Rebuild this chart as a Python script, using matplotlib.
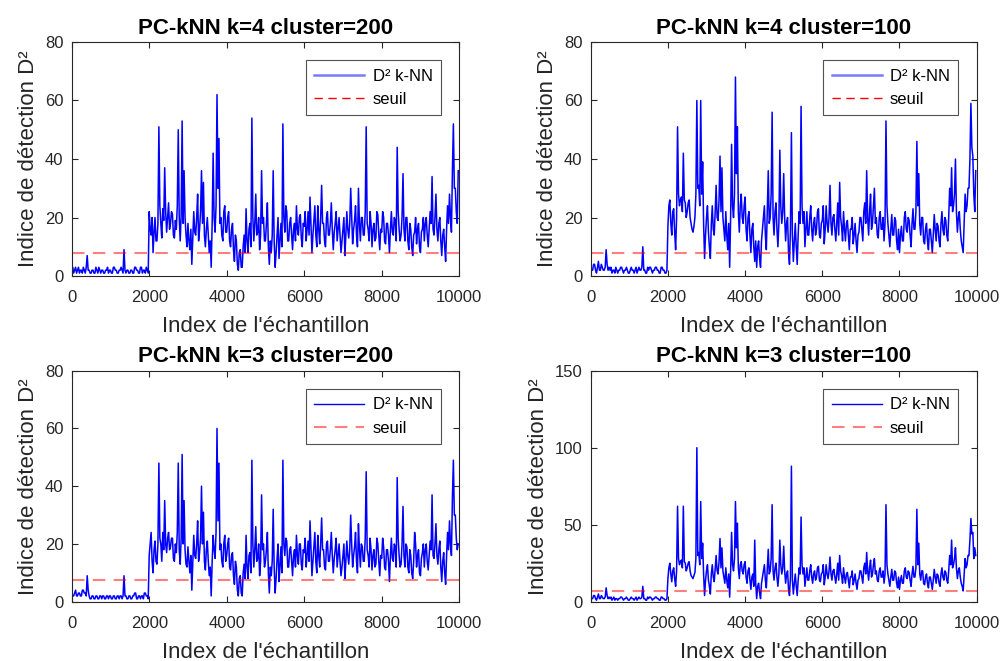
import matplotlib.pyplot as plt
from matplotlib.lines import Line2D
import numpy as np

plt.rcParams['font.family'] = ['Liberation Sans', 'DejaVu Sans']

# indices d'échantillon (pas de 25)
idx = np.arange(0, 10000, 25)

# D² k-NN, k=4 cluster=200 (20 valeurs = 500 échantillons)
d2_k4_c200 = [
    2, 3, 1, 2, 3, 1, 2, 3, 1, 2, 2, 1, 3, 2, 1, 3, 7, 2, 2, 1,
    1, 2, 2, 1, 1, 3, 2, 1, 3, 2, 1, 2, 2, 1, 1, 2, 2, 3, 1, 2,
    2, 1, 1, 3, 3, 2, 2, 1, 1, 2, 2, 3, 2, 1, 9, 2, 1, 2, 2, 1,
    1, 2, 2, 1, 1, 3, 3, 2, 2, 1, 1, 3, 3, 1, 2, 2, 1, 3, 2, 1,
    22, 16, 14, 20, 8, 15, 20, 12, 12, 18, 51, 24, 18, 13, 23, 19, 37, 22, 15, 20,
    25, 16, 18, 22, 21, 14, 13, 19, 16, 24, 50, 20, 12, 21, 53, 18, 36, 20, 14, 10,
    18, 12, 9, 16, 4, 13, 22, 15, 14, 20, 28, 12, 16, 22, 36, 18, 32, 14, 10, 16,
    20, 14, 8, 12, 3, 18, 42, 20, 15, 24, 62, 30, 47, 18, 20, 14, 12, 22, 24, 15,
    15, 20, 22, 12, 10, 16, 18, 9, 5, 14, 12, 4, 2, 8, 9, 3, 3, 10, 14, 8,
    23, 12, 8, 16, 18, 10, 54, 20, 12, 18, 28, 14, 15, 20, 9, 14, 36, 18, 20, 12,
    12, 18, 25, 10, 4, 12, 8, 14, 36, 12, 3, 8, 14, 20, 6, 12, 18, 10, 52, 20,
    15, 24, 22, 12, 12, 18, 20, 14, 9, 16, 18, 12, 24, 16, 14, 20, 21, 13, 10, 18,
    17, 22, 12, 16, 22, 14, 27, 18, 8, 14, 19, 24, 14, 10, 24, 16, 11, 20, 31, 18,
    18, 12, 10, 20, 22, 14, 14, 18, 25, 16, 9, 15, 18, 22, 12, 16, 20, 14, 8, 12,
    16, 20, 7, 14, 22, 16, 13, 18, 30, 20, 11, 16, 19, 24, 14, 10, 30, 18, 12, 20,
    20, 14, 14, 22, 51, 18, 16, 12, 22, 18, 10, 16, 18, 12, 13, 22, 21, 14, 9, 16,
    15, 22, 20, 12, 11, 18, 18, 14, 8, 16, 22, 15, 14, 20, 19, 12, 44, 22, 16, 12,
    14, 20, 35, 16, 12, 20, 20, 12, 9, 18, 16, 10, 7, 14, 15, 20, 11, 16, 18, 10,
    8, 15, 16, 20, 12, 18, 20, 14, 10, 16, 22, 18, 34, 16, 14, 20, 28, 16, 12, 18,
    20, 12, 7, 14, 16, 10, 5, 16, 24, 18, 28, 20, 15, 36, 52, 30, 30, 22, 18, 36,
]

# D² k-NN, k=4 cluster=100
d2_k4_c100 = [
    3, 2, 2, 4, 4, 2, 1, 3, 5, 2, 2, 4, 3, 2, 2, 3, 9, 4, 2, 3,
    2, 3, 1, 2, 2, 1, 3, 2, 1, 2, 2, 3, 3, 2, 1, 2, 2, 3, 2, 1,
    1, 2, 3, 2, 2, 1, 2, 3, 1, 2, 3, 2, 2, 3, 10, 2, 2, 1, 1, 3,
    2, 3, 3, 2, 1, 2, 2, 3, 3, 2, 2, 1, 1, 3, 3, 2, 2, 1, 1, 2,
    17, 24, 26, 18, 14, 22, 23, 15, 9, 20, 51, 28, 24, 26, 27, 22, 42, 26, 25, 20,
    22, 25, 26, 20, 18, 16, 15, 17, 20, 28, 60, 30, 31, 24, 60, 28, 39, 18, 6, 14,
    20, 24, 15, 10, 6, 18, 24, 16, 14, 22, 31, 20, 19, 26, 41, 22, 37, 20, 16, 12,
    22, 14, 9, 18, 3, 20, 45, 24, 20, 28, 68, 35, 51, 22, 15, 24, 28, 20, 18, 24,
    27, 16, 12, 20, 22, 14, 8, 16, 18, 10, 5, 12, 3, 10, 12, 6, 3, 12, 16, 20,
    24, 14, 9, 22, 36, 18, 20, 28, 56, 20, 14, 22, 25, 16, 10, 18, 43, 24, 18, 22,
    35, 20, 12, 18, 20, 8, 4, 16, 49, 14, 5, 12, 18, 10, 4, 14, 22, 18, 58, 24,
    18, 22, 10, 16, 22, 14, 14, 20, 24, 16, 12, 18, 20, 14, 16, 22, 23, 14, 13, 18,
    19, 24, 11, 16, 24, 18, 15, 20, 31, 18, 14, 20, 21, 16, 12, 18, 25, 14, 32, 20,
    17, 12, 22, 16, 12, 18, 19, 14, 9, 16, 16, 20, 11, 14, 18, 12, 8, 14, 15, 20,
    20, 16, 12, 22, 25, 18, 36, 20, 14, 22, 28, 16, 18, 24, 30, 18, 20, 14, 13, 20,
    22, 16, 16, 20, 12, 18, 53, 24, 18, 14, 10, 16, 21, 14, 14, 20, 19, 12, 9, 16,
    8, 14, 17, 12, 12, 20, 22, 16, 15, 20, 19, 14, 10, 18, 23, 16, 16, 22, 46, 24,
    35, 18, 14, 20, 20, 12, 11, 16, 18, 12, 9, 16, 16, 12, 8, 14, 21, 16, 12, 18,
    17, 12, 10, 18, 22, 16, 14, 20, 19, 14, 12, 20, 30, 24, 37, 22, 24, 28, 40, 22,
    15, 20, 22, 16, 12, 10, 8, 18, 28, 22, 24, 30, 30, 40, 59, 44, 41, 28, 22, 36,
]

# D² k-NN, k=3 cluster=200
d2_k3_c200 = [
    3, 2, 2, 3, 4, 2, 2, 3, 3, 2, 2, 4, 4, 3, 3, 2, 9, 4, 2, 1,
    1, 2, 2, 1, 1, 2, 2, 1, 1, 2, 2, 1, 2, 2, 1, 1, 2, 2, 1, 2,
    2, 1, 1, 2, 2, 1, 1, 2, 2, 1, 2, 2, 1, 2, 9, 2, 2, 1, 1, 2,
    2, 1, 1, 2, 2, 3, 3, 1, 1, 2, 2, 1, 2, 2, 1, 3, 3, 2, 2, 1,
    16, 20, 24, 14, 10, 18, 21, 14, 13, 20, 48, 22, 20, 14, 24, 18, 35, 20, 17, 22,
    24, 18, 19, 22, 22, 15, 14, 20, 17, 24, 48, 18, 13, 22, 51, 20, 35, 18, 13, 12,
    19, 14, 10, 16, 4, 14, 23, 16, 15, 20, 28, 14, 17, 22, 40, 20, 31, 14, 11, 18,
    21, 14, 9, 12, 2, 14, 23, 18, 15, 24, 60, 28, 48, 18, 20, 14, 12, 20, 23, 14,
    16, 20, 22, 12, 11, 16, 17, 9, 6, 14, 12, 4, 2, 8, 9, 3, 2, 10, 13, 8,
    23, 12, 8, 16, 17, 10, 49, 20, 12, 18, 26, 14, 15, 20, 9, 14, 37, 18, 20, 12,
    14, 18, 24, 10, 3, 12, 9, 14, 32, 12, 3, 8, 15, 20, 7, 12, 19, 10, 49, 20,
    16, 22, 21, 12, 12, 18, 19, 14, 9, 16, 18, 12, 23, 16, 13, 20, 20, 13, 11, 18,
    17, 22, 12, 16, 21, 14, 28, 18, 9, 14, 19, 24, 14, 10, 23, 16, 12, 20, 29, 18,
    18, 12, 11, 20, 21, 14, 14, 18, 24, 16, 10, 15, 18, 22, 12, 16, 20, 14, 9, 12,
    16, 20, 8, 14, 21, 16, 13, 18, 30, 20, 12, 16, 19, 24, 14, 10, 27, 18, 12, 20,
    19, 14, 14, 22, 45, 18, 16, 12, 22, 18, 11, 16, 18, 12, 13, 22, 20, 14, 9, 16,
    15, 22, 19, 12, 11, 18, 18, 14, 7, 16, 22, 15, 14, 20, 19, 12, 43, 22, 16, 12,
    13, 20, 33, 16, 12, 20, 19, 12, 10, 18, 16, 10, 8, 14, 24, 20, 12, 16, 18, 10,
    9, 15, 17, 20, 12, 18, 20, 14, 11, 16, 21, 18, 37, 16, 15, 20, 27, 16, 13, 18,
    21, 12, 7, 14, 17, 10, 6, 16, 24, 18, 28, 20, 16, 36, 49, 30, 30, 22, 18, 20,
]

# D² k-NN, k=3 cluster=100
d2_k3_c100 = [
    3, 2, 2, 4, 4, 2, 1, 3, 5, 2, 2, 4, 3, 2, 2, 3, 9, 4, 2, 3,
    2, 3, 1, 2, 3, 1, 2, 2, 1, 2, 2, 3, 3, 2, 1, 2, 2, 3, 2, 1,
    1, 2, 3, 2, 2, 1, 2, 3, 1, 2, 3, 2, 2, 3, 10, 2, 2, 1, 1, 3,
    2, 3, 3, 2, 1, 2, 2, 3, 3, 2, 2, 1, 1, 3, 3, 2, 2, 1, 1, 2,
    15, 22, 25, 18, 13, 20, 22, 15, 10, 20, 62, 28, 24, 26, 27, 22, 62, 26, 25, 20,
    22, 25, 26, 20, 17, 16, 15, 17, 19, 28, 100, 30, 32, 24, 65, 28, 38, 18, 4, 14,
    20, 24, 14, 10, 5, 18, 24, 16, 13, 22, 30, 20, 18, 26, 41, 22, 35, 20, 16, 12,
    22, 14, 9, 18, 3, 20, 45, 24, 20, 28, 65, 35, 51, 22, 15, 24, 26, 20, 18, 24,
    26, 16, 12, 20, 22, 14, 8, 16, 18, 10, 40, 12, 2, 10, 12, 6, 2, 12, 16, 20,
    24, 14, 9, 22, 34, 18, 20, 28, 63, 20, 14, 22, 25, 16, 10, 18, 40, 24, 18, 22,
    36, 20, 12, 18, 20, 8, 4, 16, 88, 14, 5, 12, 18, 10, 4, 14, 22, 18, 55, 24,
    18, 22, 10, 16, 22, 14, 14, 20, 24, 16, 12, 18, 20, 14, 16, 22, 23, 14, 13, 18,
    19, 24, 11, 16, 24, 18, 15, 20, 29, 18, 14, 20, 21, 16, 12, 18, 25, 14, 30, 20,
    17, 12, 22, 16, 12, 18, 19, 14, 9, 16, 16, 20, 11, 14, 18, 12, 8, 14, 15, 20,
    20, 16, 12, 22, 25, 18, 32, 20, 14, 22, 27, 16, 18, 24, 28, 18, 20, 14, 13, 20,
    22, 16, 16, 20, 12, 18, 63, 24, 18, 14, 10, 16, 21, 14, 14, 20, 19, 12, 9, 16,
    8, 14, 17, 12, 12, 20, 22, 16, 15, 20, 19, 14, 10, 18, 23, 16, 16, 22, 60, 24,
    38, 18, 14, 20, 20, 12, 11, 16, 18, 12, 9, 16, 16, 12, 8, 14, 21, 16, 12, 18,
    17, 12, 10, 18, 22, 16, 14, 20, 19, 14, 12, 20, 30, 24, 40, 22, 24, 28, 35, 22,
    15, 20, 22, 16, 12, 10, 7, 18, 28, 22, 24, 30, 30, 40, 54, 44, 45, 28, 35, 30,
]

titles = ['PC-kNN k=4 cluster=200', 'PC-kNN k=4 cluster=100',
          'PC-kNN k=3 cluster=200', 'PC-kNN k=3 cluster=100']
series = [d2_k4_c200, d2_k4_c100, d2_k3_c200, d2_k3_c100]
seuils = [8, 8, 7.5, 7.2]
ymax = [80, 80, 80, 150]
yticks = [[0, 20, 40, 60, 80], [0, 20, 40, 60, 80],
          [0, 20, 40, 60, 80], [0, 50, 100, 150]]

fig = plt.figure(figsize=(10.07, 6.61), dpi=100)
positions = [[0.0712, 0.5824, 0.3848, 0.3541],
             [0.5866, 0.5824, 0.3833, 0.3541],
             [0.0712, 0.0897, 0.3848, 0.3495],
             [0.5866, 0.0897, 0.3833, 0.3495]]

dark = '#262626'
for i in range(4):
    ax = fig.add_axes(positions[i])
    ax.plot(idx, series[i], color='blue', lw=1.1)
    ax.plot([0, 10000], [seuils[i], seuils[i]], color='red', alpha=0.5,
            ls=(0, (6, 4)), lw=1.5)
    ax.set_xlim(0, 10000)
    ax.set_ylim(0, ymax[i])
    ax.set_xticks([0, 2000, 4000, 6000, 8000, 10000])
    ax.set_yticks(yticks[i])
    ax.tick_params(direction='in', top=True, right=True, labelsize=12,
                   colors=dark, length=4, width=0.8)
    ax.tick_params(axis='x', pad=10)
    ax.tick_params(axis='y', pad=6)
    for s in ax.spines.values():
        s.set_color(dark)
        s.set_linewidth(0.8)
    ax.set_title(titles[i], fontsize=16, fontweight='bold', color='black', pad=6)
    ax.set_xlabel("Index de l'échantillon", fontsize=16, color=dark, labelpad=8)
    ax.set_ylabel('Indice de détection D²', fontsize=16, color=dark, labelpad=4)

    # la légende du haut a une ligne bleue claire, celle du bas une ligne pleine
    if i < 2:
        h1 = Line2D([], [], color='#7a7aff', lw=1.8)
        h2 = Line2D([], [], color='red', lw=1.0, ls=(0, (6, 4)))
    else:
        h1 = Line2D([], [], color='blue', lw=1.0)
        h2 = Line2D([], [], color='red', alpha=0.5, lw=1.5, ls=(0, (6, 4)))
    leg = ax.legend([h1, h2], ['D² k-NN', 'seuil'], loc='upper right', fontsize=12,
                    frameon=True, fancybox=False, edgecolor=dark, handlelength=3.0,
                    handletextpad=0.5, borderpad=0.5, borderaxespad=1.1,
                    labelspacing=0.5)
    leg.get_frame().set_linewidth(0.8)

plt.savefig('out.png', dpi=100)
